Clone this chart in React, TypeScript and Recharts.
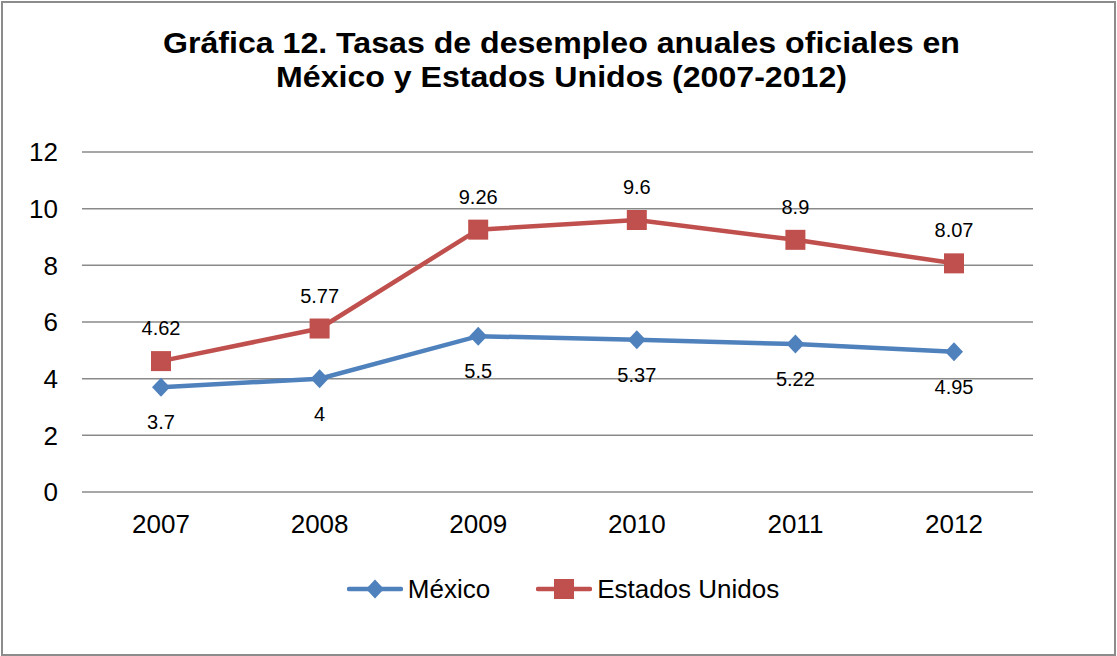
import React from "react"
import { LineChart, Line, XAxis, YAxis, CartesianGrid, Legend, LabelList } from "recharts"

const years = ["2007", "2008", "2009", "2010", "2011", "2012"]
const mexico = [3.7, 4, 5.5, 5.37, 5.22, 4.95]
const estadosUnidos = [4.62, 5.77, 9.26, 9.6, 8.9, 8.07]
const yTicks = [0, 2, 4, 6, 8, 10, 12]

const BLUE = "#4F81BD"
const RED = "#C0504D"
const FONT = "'Liberation Sans', Arial, sans-serif"

const data = years.map((year, i) => ({ year, mx: mexico[i], us: estadosUnidos[i] }))

const Diamond = (props: any) => {
  const { cx, cy } = props
  if (cx == null || cy == null) return <g key={props.key} />
  return (
    <polygon
      key={props.key}
      points={`${cx},${cy - 9.5} ${cx + 9},${cy} ${cx},${cy + 9.5} ${cx - 9},${cy}`}
      fill={BLUE}
    />
  )
}

const Square = (props: any) => {
  const { cx, cy } = props
  if (cx == null || cy == null) return <g key={props.key} />
  return <rect key={props.key} x={cx - 10} y={cy - 10} width={20} height={20} fill={RED} />
}

const LegendItem = ({ color, label, square }: { color: string; label: string; square?: boolean }) => (
  <div style={{ display: "flex", alignItems: "center" }}>
    <svg width={56} height={24}>
      <line x1={2} y1={12} x2={54} y2={12} stroke={color} strokeWidth={4.5} strokeLinecap="round" />
      {square ? (
        <rect x={18} y={2} width={20} height={20} fill={color} />
      ) : (
        <polygon points="28,2.5 37,12 28,21.5 19,12" fill={color} />
      )}
    </svg>
    <span style={{ marginLeft: 5, fontSize: 26, color: "#000", fontFamily: FONT }}>{label}</span>
  </div>
)

const ChartLegend = () => (
  <div style={{ height: 40, display: "flex", justifyContent: "center", alignItems: "center", paddingLeft: 9 }}>
    <LegendItem color={BLUE} label="México" />
    <div style={{ width: 46 }} />
    <LegendItem color={RED} label="Estados Unidos" square />
  </div>
)

export default function App() {
  return (
    <div style={{ position: "absolute", left: 0, top: 0, width: 1117, height: 656, background: "#fff" }}>
      <div
        style={{
          position: "absolute",
          left: 1,
          top: 1,
          width: 1115,
          height: 655,
          boxSizing: "border-box",
          border: "2px solid #8c8c8c",
        }}
      />
      <div
        style={{
          position: "absolute",
          left: 0,
          top: 26,
          width: 1123,
          textAlign: "center",
          fontFamily: FONT,
          fontWeight: "bold",
          fontSize: 30,
          lineHeight: "34px",
          color: "#000",
          transform: "scaleX(1.07)",
          transformOrigin: "561.5px 0",
        }}
      >
        Gráfica 12. Tasas de desempleo anuales oficiales en
        <br />
        México y Estados Unidos (2007-2012)
      </div>
      <LineChart
        width={1117}
        height={656}
        data={data}
        margin={{ top: 152, right: 84, left: 0, bottom: 47 }}
        style={{ fontFamily: FONT }}
      >
        <CartesianGrid vertical={false} stroke="#8a8a8a" strokeWidth={1.5} />
        <XAxis
          dataKey="year"
          axisLine={false}
          tickLine={false}
          tickSize={0}
          tickMargin={23}
          height={77}
          padding={{ left: 79, right: 79 }}
          tick={{ fontSize: 26, fill: "#000" }}
        />
        <YAxis
          domain={[0, 12]}
          ticks={yTicks}
          axisLine={false}
          tickLine={false}
          tickSize={0}
          tickMargin={24}
          width={82}
          tick={{ fontSize: 26, fill: "#000" }}
        />
        <Legend verticalAlign="bottom" content={<ChartLegend />} wrapperStyle={{ left: 0, width: 1117 }} />
        <Line
          dataKey="mx"
          name="México"
          stroke={BLUE}
          strokeWidth={4.5}
          dot={Diamond}
          activeDot={false}
          isAnimationActive={false}
        >
          <LabelList dataKey="mx" position="bottom" offset={28} fontSize={20} fill="#000" />
        </Line>
        <Line
          dataKey="us"
          name="Estados Unidos"
          stroke={RED}
          strokeWidth={4.5}
          dot={Square}
          activeDot={false}
          isAnimationActive={false}
        >
          <LabelList dataKey="us" position="top" offset={26} fontSize={20} fill="#000" />
        </Line>
      </LineChart>
    </div>
  )
}
